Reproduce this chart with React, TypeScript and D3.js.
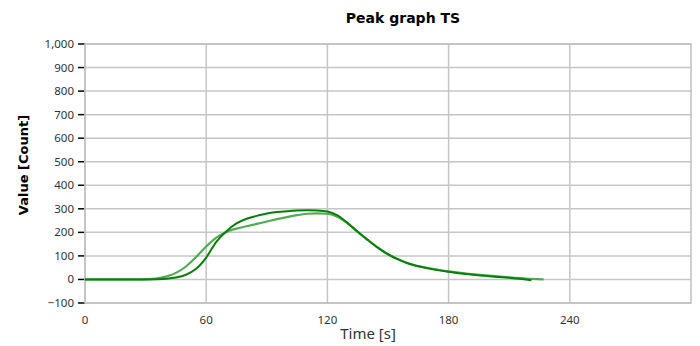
import React from "react";
import * as d3 from "d3";

const title = "Peak graph TS";
const xLabel = "Time [s]";
const yLabel = "Value [Count]";
const xTicks = [0, 60, 120, 180, 240];
const yTicks = [-100, 0, 100, 200, 300, 400, 500, 600, 700, 800, 900, 1000];

const darkT = [0, 30, 35, 40, 45, 50, 55, 60, 65, 70, 75, 80, 85, 90, 95, 100, 105, 110, 115, 120, 125, 130, 135, 140, 145, 150, 155, 160, 170, 180, 190, 200, 210, 215, 221];
const darkV = [0, 0, 1, 3, 8, 20, 45, 93, 160, 205, 238, 258, 270, 280, 286, 290, 293, 294, 293, 289, 272, 240, 203, 168, 135, 107, 85, 68, 47, 33, 22, 14, 7, 3, -3];
const lightT = [0, 25, 30, 35, 40, 45, 50, 55, 60, 65, 70, 75, 80, 85, 90, 95, 100, 105, 110, 115, 120, 125, 130, 135, 140, 145, 150, 155, 160, 170, 180, 190, 200, 210, 220, 227];
const lightV = [0, 0, 1, 4, 12, 28, 55, 95, 140, 178, 202, 216, 226, 236, 246, 256, 265, 273, 279, 281, 279, 266, 238, 202, 167, 134, 107, 86, 69, 48, 34, 24, 16, 9, 3, 0];

const W = 700, H = 346;
const M = { left: 85, right: 9, top: 44, bottom: 43 };

export default function App() {
  const x = d3.scaleLinear().domain([0, 300]).range([M.left, W - M.right]);
  const y = d3.scaleLinear().domain([-100, 1000]).range([H - M.bottom, M.top]);
  const line = d3.line<[number, number]>().x(d => x(d[0])).y(d => y(d[1])).curve(d3.curveMonotoneX);
  const dark = darkT.map((t, i) => [t, darkV[i]] as [number, number]);
  const light = lightT.map((t, i) => [t, lightV[i]] as [number, number]);
  const fmt = d3.format(",");
  const tickFont = "'Noto Sans', sans-serif";
  return (
    <svg width={W} height={H} style={{ position: "absolute", left: 0, top: 0 }}>
      <rect x={0} y={0} width={W} height={H} fill="#fff" />
      <text x={403} y={23} textAnchor="middle" fontFamily="'DejaVu Sans', Verdana, sans-serif" fontWeight="bold" fontSize={14} fill="#000">{title}</text>
      {yTicks.map(v => (
        <g key={"y" + v}>
          <line x1={M.left} x2={W - M.right} y1={y(v)} y2={y(v)} stroke="#c6c6c6" strokeWidth={1.5} />
          <line x1={M.left - 7} x2={M.left} y1={y(v)} y2={y(v)} stroke="#000" strokeWidth={1.5} />
          <text x={M.left - 11} y={y(v)} dy="0.35em" textAnchor="end" fontFamily={tickFont} fontSize={11.5} fill="#333">{fmt(v)}</text>
        </g>
      ))}
      {xTicks.map(v => (
        <g key={"x" + v}>
          <line x1={x(v)} x2={x(v)} y1={M.top} y2={H - M.bottom} stroke="#c6c6c6" strokeWidth={1.5} />
          <text x={x(v)} y={324} textAnchor="middle" fontFamily={tickFont} fontSize={11.5} fill="#333">{v}</text>
        </g>
      ))}
      <rect x={M.left} y={M.top} width={W - M.left - M.right} height={H - M.top - M.bottom} fill="none" stroke="#c0c0c0" strokeWidth={1.5} />
      <path d={line(light) || ""} fill="none" stroke="#3fa33f" strokeWidth={2.2} strokeOpacity={0.9} />
      <path d={line(dark) || ""} fill="none" stroke="#078007" strokeWidth={2} />
      <text x={368} y={339} textAnchor="middle" fontFamily={tickFont} fontSize={15} fill="#333">{xLabel}</text>
      <text transform={`translate(28,165) rotate(-90)`} textAnchor="middle" fontFamily="'DejaVu Sans', Verdana, sans-serif" fontWeight="bold" fontSize={13} fill="#000">{yLabel}</text>
    </svg>
  );
}
